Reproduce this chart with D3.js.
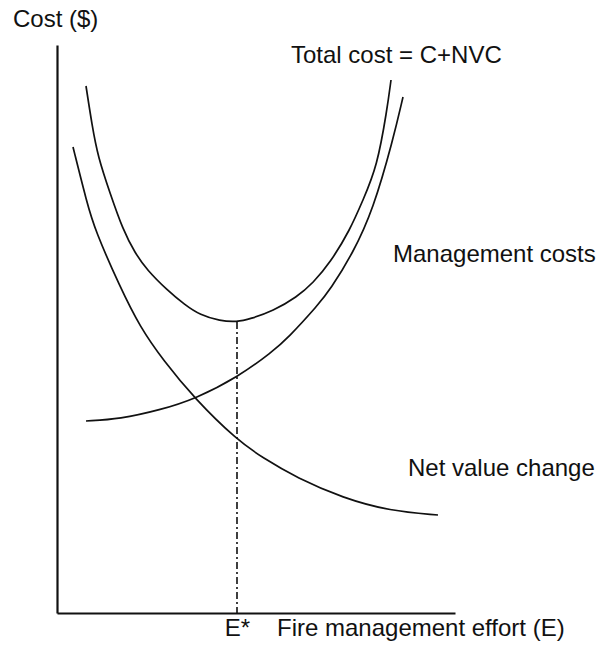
<!DOCTYPE html>
<html lang="en">
<head>
  <meta charset="UTF-8">
  <title>Fire management effort</title>
  <style>
    body { margin: 0; background: #fff; }
    text { font-family: "Liberation Sans", Arial, Helvetica, sans-serif; fill: #111; }
  </style>
</head>
<body>

<svg id="chart" width="603" height="646"></svg>

<script src="https://d3js.org/d3.v7.min.js"></script>

<script>
// values, [effort, cost] in arbitrary units
var totalCost = [[7.25,131.75],[8.75,122],[10.25,114],[13.25,105],[16.5,95.75],[19.5,90],
  [22.5,85.75],[27.5,80.75],[32,77],[35.75,74.5],[40.75,73],[45,72.75],[48.25,73.5],
  [54,75.5],[60,79],[64,82.5],[68.25,87.5],[73.25,95.75],[76.5,103.25],[80,111.5],
  [82.5,125.75],[83.5,133.25]];

var managementCost = [[7.25,48],[15.75,48.5],[25.75,50.75],[34.5,53.5],[45.25,59],
  [53.75,65.25],[57.75,68.75],[65.25,77],[68.25,80.75],[74,90],[79,100.75],
  [84,118.25],[86.5,129]];

var netValueChange = [[4,116.5],[7.5,102.5],[9.5,95.75],[15.75,81.5],[20.75,71.5],
  [26.5,63.25],[34.5,53.5],[45,43.25],[51.5,38.75],[60,33.75],[71.5,28.75],
  [83.25,25.5],[95.25,24.5]];

var optimum = 45;          // E*
var optimumCost = 72.75;   // minimum of total cost

var labels = [
  {text: "Total cost = C+NVC", x: 58.5, y: 137.5},
  {text: "Management costs",   x: 84,   y: 87.75},
  {text: "Net value change",   x: 87.75, y: 34.25}
];

var svg = d3.select("#chart");

var x = d3.scaleLinear().domain([0, 99.5]).range([57, 455]);
var y = d3.scaleLinear().domain([0, 142]).range([613, 45]);

var line = d3.line()
  .x(function (d) { return x(d[0]); })
  .y(function (d) { return y(d[1]); })
  .curve(d3.curveBasis);

// axes: plain lines, only the E* mark on x
var xAxis = svg.append("g")
  .attr("transform", "translate(0," + y(0) + ")")
  .call(d3.axisBottom(x).tickValues([optimum]).tickSize(0).tickPadding(6)
    .tickSizeOuter(0).tickFormat(function () { return "E*"; }));
xAxis.select(".domain").attr("stroke", "#111").attr("stroke-width", 2.2);
xAxis.selectAll("text").style("font-size", "24px")
  .style("font-family", '"Liberation Sans", Arial, sans-serif').attr("fill", "#111");

var yAxis = svg.append("g")
  .attr("transform", "translate(" + x(0) + ",0)")
  .call(d3.axisLeft(y).tickValues([]).tickSizeOuter(0));
yAxis.select(".domain").attr("stroke", "#111").attr("stroke-width", 2.2);

// dash-dot line down from the minimum
svg.append("line")
  .attr("x1", x(optimum)).attr("x2", x(optimum))
  .attr("y1", y(optimumCost)).attr("y2", y(0))
  .attr("stroke", "#111")
  .attr("stroke-width", 1.6)
  .attr("stroke-dasharray", "7,3,2,3");

[totalCost, managementCost, netValueChange].forEach(function (s) {
  svg.append("path")
    .datum(s)
    .attr("d", line)
    .attr("fill", "none")
    .attr("stroke", "#111")
    .attr("stroke-width", 1.7);
});

svg.selectAll(".lbl")
  .data(labels)
  .enter().append("text")
  .attr("class", "lbl")
  .attr("x", function (d) { return x(d.x); })
  .attr("y", function (d) { return y(d.y); })
  .style("font-size", "24px")
  .text(function (d) { return d.text; });

svg.append("text")
  .attr("x", 13).attr("y", 27)
  .style("font-size", "24px")
  .text("Cost ($)");

svg.append("text")
  .attr("x", 277).attr("y", 636)
  .style("font-size", "24px")
  .text("Fire management effort (E)");
</script>

</body>
</html>
